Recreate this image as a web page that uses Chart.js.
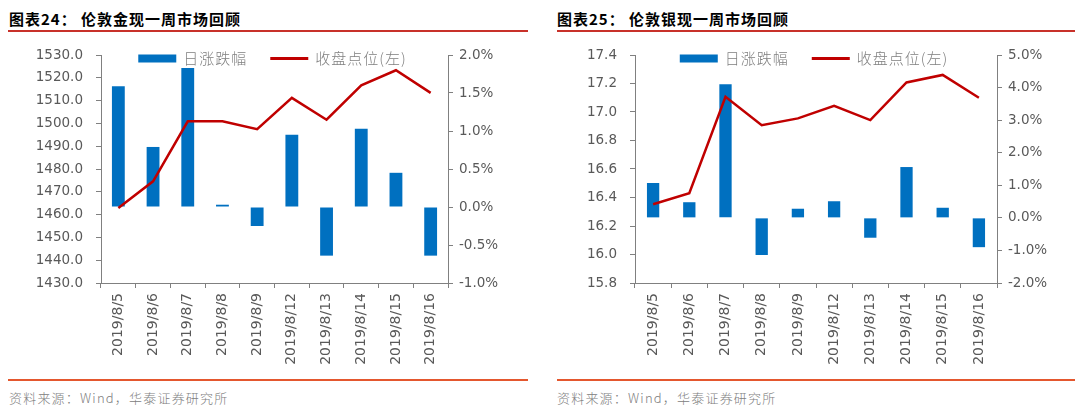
<!DOCTYPE html>
<html><head><meta charset="utf-8">
<script src="https://cdn.jsdelivr.net/npm/chart.js@4.4.0/dist/chart.umd.min.js"></script>
<style>
html,body{margin:0;padding:0;background:#fff;}
body{width:1080px;height:409px;position:relative;overflow:hidden;font-family:"Noto Sans CJK SC",sans-serif;}
.title{position:absolute;top:9px;font-size:15px;font-weight:700;color:#000;letter-spacing:1px;line-height:20px;white-space:nowrap;}
.tline{position:absolute;top:30px;height:1.5px;background:#c8312a;}
.fline{position:absolute;top:379px;height:1.5px;background:#e4572e;}
.foot{position:absolute;top:389px;font-size:13px;color:#808080;letter-spacing:1.2px;font-weight:300;line-height:18px;white-space:nowrap;}
canvas{position:absolute;top:40px;}
</style></head>
<body>
<div class="title" style="left:9px">图表24： 伦敦金现一周市场回顾</div>
<div class="tline" style="left:8px;width:520px"></div>
<div class="title" style="left:557px">图表25： 伦敦银现一周市场回顾</div>
<div class="tline" style="left:557px;width:518px"></div>
<canvas id="c1" width="530" height="338" style="left:0"></canvas>
<canvas id="c2" width="540" height="338" style="left:540px"></canvas>
<div class="fline" style="left:8px;width:520px"></div>
<div class="fline" style="left:557px;width:518px"></div>
<div class="foot" style="left:9px">资料来源：Wind，华泰证券研究所</div>
<div class="foot" style="left:557px">资料来源：Wind，华泰证券研究所</div>
<script>
const categories = ['2019/8/5','2019/8/6','2019/8/7','2019/8/8','2019/8/9','2019/8/12','2019/8/13','2019/8/14','2019/8/15','2019/8/16'];
const goldClose  = [1462.9, 1474.6, 1500.9, 1500.9, 1497.5, 1511.2, 1501.6, 1516.7, 1523.3, 1513.4];
const goldChange = [1.59, 0.79, 1.83, 0.03, -0.25, 0.95, -0.64, 1.03, 0.45, -0.64];
const silverClose  = [16.353, 16.430, 17.107, 16.907, 16.955, 17.043, 16.943, 17.207, 17.260, 17.100];
const silverChange = [1.07, 0.48, 4.10, -1.14, 0.28, 0.51, -0.61, 1.56, 0.31, -0.90];
const barLabel = '日涨跌幅';
const lineLabel = '收盘点位(左)';

const BLUE = '#0070C0', RED = '#C00000', AXIS = '#808080', TXT = '#595959';

const legendPlugin = {
  id: 'customLegend',
  afterDraw(chart) {
    const ctx = chart.ctx, a = chart.chartArea;
    const ds = chart.data.datasets;
    ctx.save();
    ctx.font = '300 15px "Noto Sans CJK SC"';
    if ('letterSpacing' in ctx) ctx.letterSpacing = '1px';
    ctx.textBaseline = 'middle';
    ctx.textAlign = 'left';
    const boxW = 38, gap = 7, itemGap = 23;
    const w0 = ctx.measureText(ds[0].label).width;
    const w1 = ctx.measureText(ds[1].label).width;
    const total = boxW + gap + w0 + itemGap + boxW + gap + w1;
    let x = (a.left + a.right) / 2 - total / 2 - 2;
    const y = a.top + 3.5;
    ctx.fillStyle = ds[0].backgroundColor;
    ctx.fillRect(x, y - 4, boxW, 8);
    ctx.fillStyle = '#7f7f7f';
    ctx.fillText(ds[0].label, x + boxW + gap, y);
    x += boxW + gap + w0 + itemGap;
    ctx.strokeStyle = ds[1].borderColor;
    ctx.lineWidth = 3;
    ctx.beginPath(); ctx.moveTo(x, y); ctx.lineTo(x + boxW, y); ctx.stroke();
    ctx.fillText(ds[1].label, x + boxW + gap, y);
    ctx.restore();
  }
};

function makeChart(id, close, change, lMin, lMax, lStep, rMin, rMax, rStep, lWidth, rWidth, barPct) {
  return new Chart(document.getElementById(id), {
    type: 'bar',
    data: {
      labels: categories,
      datasets: [
        { type: 'bar', label: barLabel, data: change, yAxisID: 'y1', backgroundColor: BLUE,
          borderWidth: 0, barPercentage: barPct, categoryPercentage: 1.0, order: 1 },
        { type: 'line', label: lineLabel, data: close, yAxisID: 'y', borderColor: RED,
          backgroundColor: RED, borderWidth: 2.5, pointRadius: 0, tension: 0, fill: false, order: 0 }
      ]
    },
    options: {
      responsive: false,
      animation: false,
      events: [],
      layout: { padding: { top: 15, left: 0, right: 0, bottom: 0 } },
      plugins: { legend: { display: false }, tooltip: { enabled: false }, title: { display: false } },
      scales: {
        x: {
          offset: true,
          grid: { display: true, drawOnChartArea: false, drawTicks: true, tickLength: 5, color: AXIS, offset: true },
          border: { display: true, color: AXIS, width: 1 },
          ticks: { color: TXT, font: { family: 'DejaVu Sans', size: 14 }, minRotation: 90, maxRotation: 90,
                   autoSkip: false, padding: 5 },
          afterFit(s) { s.height = 95; s.paddingLeft = 0; s.paddingRight = 0; }
        },
        y: {
          position: 'left', min: lMin, max: lMax,
          grid: { display: true, drawOnChartArea: false, drawTicks: true, tickLength: 5, color: AXIS },
          border: { display: true, color: AXIS, width: 1 },
          ticks: { stepSize: lStep, color: TXT, font: { family: 'DejaVu Sans', size: 13.5 }, padding: 13,
                   callback: v => Number(v).toFixed(1) },
          afterFit(s) { s.width = lWidth; s.paddingTop = 0; s.paddingBottom = 0; }
        },
        y1: {
          position: 'right', min: rMin, max: rMax,
          grid: { display: true, drawOnChartArea: false, drawTicks: true, tickLength: 5, color: AXIS },
          border: { display: true, color: AXIS, width: 1 },
          ticks: { stepSize: rStep, color: TXT, font: { family: 'DejaVu Sans', size: 13.5 }, padding: 6,
                   callback: v => Number(v).toFixed(1) + '%' },
          afterFit(s) { s.width = rWidth; s.paddingTop = 0; s.paddingBottom = 0; }
        }
      }
    },
    plugins: [legendPlugin]
  });
}

makeChart('c1', goldClose, goldChange, 1430, 1530, 10, -1, 2, 0.5, 101, 82, 0.37);
makeChart('c2', silverClose, silverChange, 15.8, 17.4, 0.2, -2, 5, 1, 95, 83, 0.34);
</script>
</body></html>
